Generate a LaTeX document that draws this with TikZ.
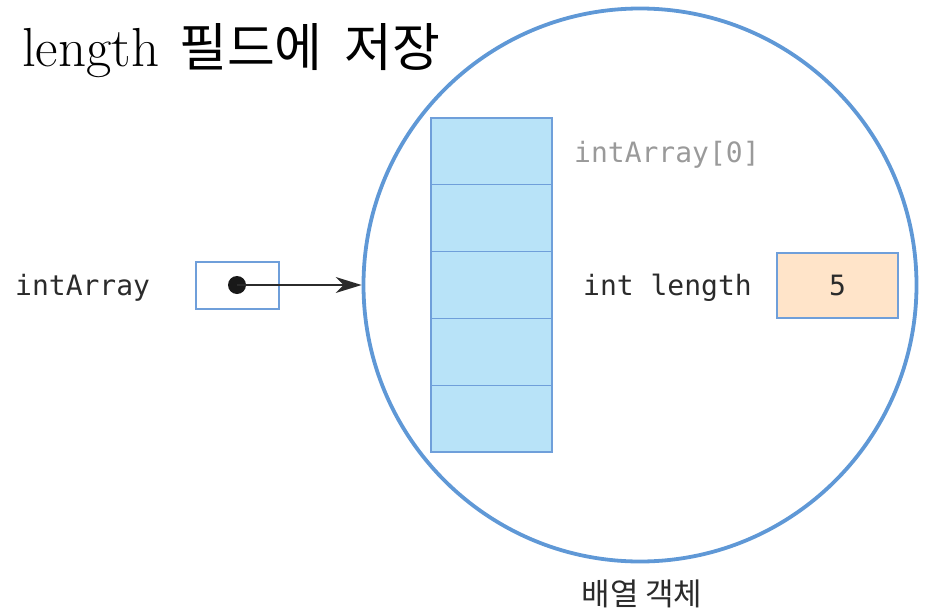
\documentclass[tikz,border=0pt]{standalone}
\usepackage{fontspec}
\setmonofont{DejaVu Sans Mono}
\newfontfamily\krfont{Noto Sans CJK KR}
\usetikzlibrary{arrows.meta}
\definecolor{ringblue}{HTML}{5F98D6}
\definecolor{cellfill}{HTML}{B8E3F8}
\definecolor{cellline}{HTML}{6F9FDA}
\definecolor{peach}{HTML}{FFE4C9}
\definecolor{codegray}{HTML}{9A9A9A}
\definecolor{codedark}{HTML}{2B2B2B}
\tikzset{
  cell/.style={draw=cellline, fill=cellfill, line width=1.3pt, minimum width=121, minimum height=66.8, inner sep=0pt},
  code/.style={font=\ttfamily\fontsize{28}{34}\selectfont, text=codedark, inner sep=0pt},
}
\begin{document}
\begin{tikzpicture}[x=1pt,y=-1pt]
\useasboundingbox (0,0) rectangle (926,613);
% title
\node[anchor=base west, inner sep=0pt] (title) at (22,66)
  {\fontsize{55}{64}\selectfont length\hspace{20pt}{\krfont\fontsize{52}{60}\selectfont 필드에\hspace{22pt}저장}};
% array object ring
\node[circle, draw=ringblue, line width=3.8pt, minimum size=553, inner sep=0pt] (obj) at (640,285) {};
% cells
\node[cell] (c0) at (491.5,151.4) {};
\node[cell] (c1) at (491.5,218.2) {};
\node[cell] (c2) at (491.5,285) {};
\node[cell] (c3) at (491.5,351.8) {};
\node[cell] (c4) at (491.5,418.6) {};
% labels
\node[code, anchor=base west] (lbl) at (15,295) {intArray};
\node[code, anchor=base west, text=codegray] (idx0) at (574,162) {intArray[0]};
\node[code, anchor=base west] (len) at (583,295) {int length};
% length box
\node[draw=cellline, fill=peach, line width=1.2pt, minimum width=121, minimum height=65, inner sep=0pt, font=\ttfamily\fontsize{28}{34}\selectfont, text=codedark] (five) at (837.5,285.5) {5};
% reference variable
\node[draw=cellline, line width=1.2pt, minimum width=83, minimum height=47, inner sep=0pt] (ref) at (237.5,285.5) {};
\node[circle, fill=black!90, minimum size=18, inner sep=0pt] (dot) at (237,285) {};
\draw[line width=1.3pt, codedark, -{Stealth[length=26pt,width=16pt,inset=8pt]}] (dot.center) -- (obj.west);
% caption
\node[font=\krfont\fontsize{31}{37}\selectfont, text=codedark, inner sep=0pt] (cap) at (642,594) {배열 객체};
\end{tikzpicture}
\end{document}
